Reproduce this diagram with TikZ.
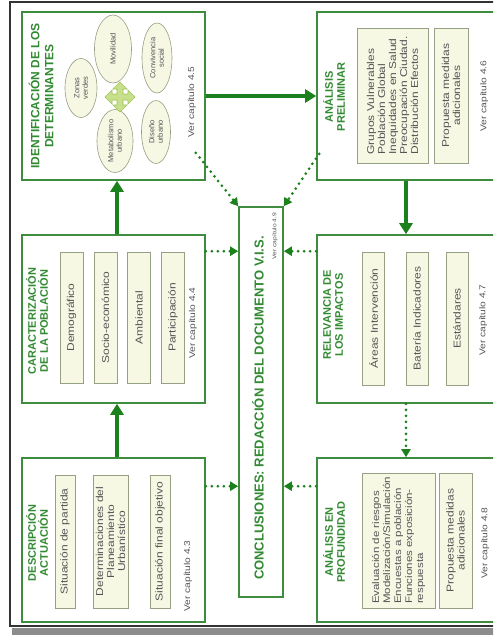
\documentclass[tikz,border=0pt]{standalone}
\usepackage{fontspec}
\setmainfont{Liberation Sans}
\newfontfamily\widesans[FakeStretch = 1.2]{Liberation Sans}
\usepackage{tikz}
\usetikzlibrary{shapes, arrows.meta}
\definecolor{stagegreen}{RGB}{62,140,62}
\definecolor{flowgreen}{RGB}{28,128,28}
\definecolor{titlegreen}{RGB}{50,138,50}
\definecolor{itemfill}{RGB}{246,248,228}
\definecolor{itemline}{RGB}{150,160,130}
\definecolor{textgray}{RGB}{85,85,85}
\definecolor{crossfill}{RGB}{200,224,140}
\definecolor{crossline}{RGB}{160,196,90}
\tikzstyle{stage} = [rectangle, rotate = 90, draw = stagegreen, line width =
  1.6pt, inner sep = 0]
\tikzstyle{stagehead} = [
  rotate = 90, text = titlegreen, align = center, inner sep = 0,
  font = \bfseries\fontsize{11}{12}\selectfont
]
\tikzstyle{facet} = [
  rectangle, rotate = 90, draw = itemline, fill = itemfill,
  line width = 0.6pt, text = textgray, align = center, inner sep = 0,
  font = \widesans\fontsize{10}{11}\selectfont
]
\tikzstyle{spot} = [
  ellipse, rotate = 90, draw = itemline, fill = itemfill,
  line width = 0.6pt, text = textgray, align = center, inner sep = 0,
  font = \fontsize{7.5}{8.5}\selectfont
]
\tikzstyle{seechap} = [rotate = 90, text = textgray, inner sep = 0,
  font = \widesans\fontsize{8.5}{10}\selectfont]
\tikzstyle{flow} = [-{Triangle[width = 13pt, length = 11pt]}, draw =
  flowgreen, line width = 3.5pt]
\tikzstyle{flowdot} = [-{Triangle[width = 9pt, length = 8pt]}, draw =
  flowgreen, line width = 3pt, line cap = round, dash pattern = on 0pt off 6pt]

\begin{document}
\begin{tikzpicture}[x = 1pt, y = -1pt]
      \useasboundingbox (0, 0) rectangle (493, 635);
      \clip (0, 0) rectangle (493, 635);
      \fill [white] (0, 0) rectangle (493, 635);
      % frame
      \fill [black!45] (12, 628) rectangle (510, 635);
      \draw [black!80, line width = 1.2pt] (10, 2) rectangle (510, 626);
      % descripcion
      \node [stage, minimum width = 164, minimum height = 183] (stage-desc) at (113.5, 540) {};
      \node [stagehead] (head-desc) at (37, 543) {DESCRIPCIÓN\\ACTUACIÓN};
      \node [facet, minimum width = 133, minimum height = 20] (facet-desc-a) at (65, 541.5) {Situación de partida};
      \node [facet, minimum width = 133, minimum height = 35] (facet-desc-b) at (110.5, 541.5) {Determinaciones del\\Planeamiento\\Urbanístico};
      \node [facet, minimum width = 133, minimum height = 20] (facet-desc-c) at (160, 541.5) {Situación final objetivo};
      \node [seechap] (chap-desc) at (188, 576) {Ver capítulo 4.3};
      % caracterizacion
      \node [stage, minimum width = 168, minimum height = 183] (stage-carac) at (113.5, 319) {};
      \node [stagehead] (head-carac) at (37, 321) {CARACTERIZACIÓN\\DE LA POBLACIÓN};
      \node [facet, minimum width = 131, minimum height = 23] (facet-carac-a) at (71.5, 317.5) {Demográfico};
      \node [facet, minimum width = 131, minimum height = 23] (facet-carac-b) at (105.5, 317.5) {Socio-económico};
      \node [facet, minimum width = 131, minimum height = 23] (facet-carac-c) at (139, 317.5) {Ambiental};
      \node [facet, minimum width = 131, minimum height = 23] (facet-carac-d) at (173, 317.5) {Participación};
      \node [seechap] (chap-carac) at (193, 323) {Ver capítulo 4.4};
      % identificacion
      \node [stage, minimum width = 168, minimum height = 183] (stage-ident) at (113.5, 96) {};
      \node [stagehead, font = \bfseries\fontsize{12}{14}\selectfont] (head-ident) at (41, 96) {IDENTIFICACIÓN DE LOS\\DETERMINANTES};
      \node [spot, minimum width = 59, minimum height = 32] (spot-verdes) at (81, 88) {Zonas\\verdes};
      \node [spot, minimum width = 68, minimum height = 37] (spot-movil) at (113, 49) {Movilidad};
      \node [spot, minimum width = 70, minimum height = 30] (spot-conviv) at (157, 58) {Convivencia\\social};
      \node [spot, minimum width = 63, minimum height = 36] (spot-metab) at (115, 141) {Metabolismo\\urbano};
      \node [spot, minimum width = 63, minimum height = 29] (spot-diseno) at (156, 132) {Diseño\\urbano};
      \draw [draw = crossline, fill = crossfill, line width = 0.6pt, shift = {(120, 97)}]
        (3, 3) -- (8, 3) -- (8, 7) -- (15, 0) -- (8, -7) -- (8, -3) -- (3, -3)
        -- (3, -8) -- (7, -8) -- (0, -15) -- (-7, -8) -- (-3, -8) -- (-3, -3)
        -- (-8, -3) -- (-8, -7) -- (-15, 0) -- (-8, 7) -- (-8, 3) -- (-3, 3)
        -- (-3, 8) -- (-7, 8) -- (0, 15) -- (7, 8) -- (3, 8) -- cycle;
      \node [seechap] (chap-ident) at (192, 102) {Ver capítulo 4.5};
      % analisis preliminar
      \node [stage, minimum width = 168, minimum height = 178] (stage-prelim) at (406, 96) {};
      \node [stagehead] (head-prelim) at (334, 97) {ANÁLISIS\\PRELIMINAR};
      \node [facet, align = left, minimum width = 135, minimum height = 71] (facet-prelim-a) at (392.5, 95.5) {Grupos Vulnerables\\Población Global\\Inequidades en Salud\\Preocupación Ciudad.\\Distribución Efectos};
      \node [facet, minimum width = 135, minimum height = 34] (facet-prelim-b) at (451, 95.5) {Propuesta medidas\\adicionales};
      \node [seechap] (chap-prelim) at (484, 96) {Ver capítulo 4.6};
      % relevancia
      \node [stage, minimum width = 168, minimum height = 178] (stage-relev) at (406, 319) {};
      \node [stagehead] (head-relev) at (333, 315) {RELEVANCIA DE\\LOS IMPACTOS};
      \node [facet, minimum width = 133, minimum height = 22] (facet-relev-a) at (373.5, 318.5) {Áreas Intervención};
      \node [facet, minimum width = 133, minimum height = 22] (facet-relev-b) at (417, 318.5) {Batería Indicadores};
      \node [facet, minimum width = 133, minimum height = 22] (facet-relev-c) at (457, 318.5) {Estándares};
      \node [seechap] (chap-relev) at (483, 320) {Ver capítulo 4.7};
      % analisis en profundidad
      \node [stage, minimum width = 164, minimum height = 178] (stage-prof) at (406, 540) {};
      \node [stagehead] (head-prof) at (334, 542) {ANÁLISIS EN\\PROFUNDIDAD};
      \node [facet, align = left, font = \widesans\fontsize{9.6}{11}\selectfont, minimum width = 135, minimum height = 73] (facet-prof-a) at (398.5, 540.5) {Evaluación de riesgos\\Modelización/Simulación\\Encuestas a población\\Funciones exposición-\\respuesta};
      \node [facet, minimum width = 135, minimum height = 33] (facet-prof-b) at (455.5, 540.5) {Propuesta medidas\\adicionales};
      \node [seechap] (chap-prof) at (485, 543) {Ver capítulo 4.8};
      % conclusiones
      \node [stage, minimum width = 390, minimum height = 44] (stage-concl) at (261, 402) {};
      \node [stagehead, font = \bfseries\fontsize{13}{14}\selectfont] (head-concl) at (258, 408) {CONCLUSIONES: REDACCIÓN DEL DOCUMENTO V.I.S.};
      \node [seechap, font = \widesans\fontsize{5.6}{7}\selectfont] (chap-concl) at (275, 236) {Ver capítulo 4.9};

      \coordinate (tap-desc) at ([yshift = -29pt]stage-desc.south east);
      \coordinate (tap-carac) at ([yshift = -17pt]stage-carac.south east);
      \coordinate (tap-relev) at ([yshift = -17pt]stage-relev.north east);
      \coordinate (tap-prof) at ([yshift = -29pt]stage-prof.north east);
      \coordinate (tap-ident) at ([xshift = -10pt, yshift = 28pt]stage-ident.south west);
      \coordinate (tap-prelim) at ([xshift = 3pt, yshift = 27pt]stage-prelim.north west);

      \draw [flow] ([xshift = 3.5pt]stage-desc.east) -- ([xshift = 3.5pt]stage-carac.west);
      \draw [flow] ([xshift = 3.5pt]stage-carac.east) -- ([xshift = 3.5pt]stage-ident.west);
      \draw [flow] (stage-ident.south) -- (stage-prelim.north);
      \draw [flow] (stage-prelim.west) -- (stage-relev.east);
      \draw [flowdot] (stage-relev.west) -- (stage-prof.east);
      \draw [flowdot] (tap-desc) -- (tap-desc -| stage-concl.north);
      \draw [flowdot] (tap-carac) -- (tap-carac -| stage-concl.north);
      \draw [flowdot] (tap-relev) -- (tap-relev -| stage-concl.south);
      \draw [flowdot] (tap-prof) -- (tap-prof -| stage-concl.south);
      \draw [flowdot] (tap-ident) -- (stage-concl.north east);
      \draw [flowdot] (tap-prelim) -- (stage-concl.south east);
    \end{tikzpicture}
\end{document}
